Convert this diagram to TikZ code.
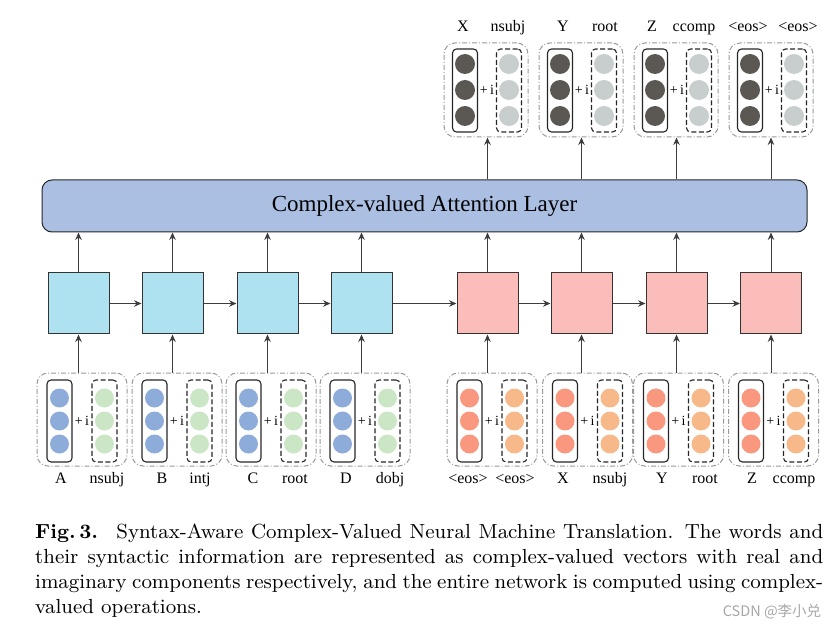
\documentclass[tikz,border=0pt]{standalone}
\usepackage{fontspec}
\newfontfamily\tms{Liberation Serif}
\newfontfamily\cjk{Noto Sans CJK SC}
\newfontfamily\capfont{lmroman9-regular.otf}[BoldFont=lmroman9-bold.otf]
\usetikzlibrary{arrows.meta}
\definecolor{attfill}{HTML}{AABFE2}
\definecolor{encfill}{HTML}{AEE2F0}
\definecolor{decfill}{HTML}{FBBDB9}
\definecolor{cblue}{HTML}{8DACDA}
\definecolor{cgreen}{HTML}{CAE6C4}
\definecolor{csalmon}{HTML}{F9977F}
\definecolor{corange}{HTML}{F8B98A}
\definecolor{cdark}{HTML}{5B5853}
\definecolor{clight}{HTML}{C8CECE}
\definecolor{grpline}{HTML}{979B9B}
\definecolor{edgecol}{HTML}{3C3C3C}
\tikzset{
  grp/.style={draw=grpline, line width=1pt, dash pattern=on 5pt off 2pt on 1pt off 2pt,
    rounded corners=11pt, inner sep=0pt},
  realbox/.style={draw=black!85, line width=1.1pt, rounded corners=4pt, minimum width=25pt, inner sep=0pt},
  imagbox/.style={realbox, dash pattern=on 5pt off 2.5pt},
  dot/.style={circle, inner sep=0pt},
  cell/.style={draw=black!80, line width=1pt, minimum size=61pt, inner sep=0pt},
  att/.style={draw=black!85, line width=1pt, fill=attfill, rounded corners=10pt,
    minimum width=765pt, minimum height=52pt, inner sep=0pt},
  arr/.style={draw=edgecol, line width=0.9pt, -{Stealth[length=7.5pt,width=6.5pt,inset=2.5pt]}},
  lbl/.style={anchor=base, inner sep=0pt, font=\tms\fontsize{16}{16}\selectfont},
  plusi/.style={inner sep=0pt, font=\tms\fontsize{14}{14}\selectfont},
}
\begin{document}
\begin{tikzpicture}[x=1pt,y=-1pt]
\useasboundingbox (0,0) rectangle (836,631);

% attention layer
\node[att] (att) at (424.5,206) {\tms\fontsize{23}{23}\selectfont Complex-valued Attention Layer};

% recurrent cells
\foreach \i/\bx/\col in {1/78.5/encfill,2/172.5/encfill,3/267.5/encfill,4/361.5/encfill,
                          5/487.5/decfill,6/581.5/decfill,7/676.5/decfill,8/771/decfill}{
  \node[cell, fill=\col] (cell\i) at (\bx,303.5) {};
}
\foreach \i/\j in {1/2,2/3,3/4,4/5,5/6,6/7,7/8}{
  \draw[arr] (cell\i.east) -- (cell\j.west);
}
\foreach \i in {1,...,8}{
  \draw[arr] (cell\i.north) -- (cell\i.north |- att.south);
}

% input groups
\foreach \i/\gx/\cr/\ci/\la/\xa/\lb/\xb in {
  1/82/cblue/cgreen/A/61/nsubj/107,
  2/177/cblue/cgreen/B/162/intj/200,
  3/271/cblue/cgreen/C/253/root/295,
  4/365/cblue/cgreen/D/346/dobj/390,
  5/492/csalmon/corange/{<eos>}/468/{<eos>}/515,
  6/587.5/csalmon/corange/X/563/nsubj/610,
  7/678.5/csalmon/corange/Y/662/root/705,
  8/773.5/csalmon/corange/Z/752/ccomp/794}{
  \node[grp, minimum width=90pt, minimum height=93pt] (gin\i) at (\gx,419.5) {};
  \node[realbox, minimum height=82pt] (rin\i) at (\gx-22.5,421) {};
  \node[imagbox, minimum height=82pt] (iin\i) at (\gx+22.5,421) {};
  \foreach \k/\y in {1/398,2/421,3/444}{
    \node[dot, fill=\cr, minimum size=19pt] (rin\i d\k) at (\gx-22.5,\y) {};
    \node[dot, fill=\ci, minimum size=19pt] (iin\i d\k) at (\gx+22.5,\y) {};
  }
  \node[plusi] (pin\i) at (\gx,421) {+\,i};
  \node[lbl] (lain\i) at (\xa,483) {\la};
  \node[lbl] (lbin\i) at (\xb,483) {\lb};
  \draw[arr] (gin\i.north -| cell\i) -- (cell\i.south);
}

% output groups
\foreach \i/\c/\gx/\la/\xa/\lb/\xb in {
  1/5/486/X/463/nsubj/508,
  2/6/581/Y/563/root/605,
  3/7/676/Z/652/ccomp/694,
  4/8/771/{<eos>}/748/{<eos>}/798}{
  \node[grp, minimum width=84pt, minimum height=94pt] (gout\i) at (\gx,90) {};
  \node[realbox, minimum height=83pt] (rout\i) at (\gx-21,90.5) {};
  \node[imagbox, minimum height=83pt] (iout\i) at (\gx+23,90.5) {};
  \foreach \k/\y in {1/64,2/90,3/116}{
    \node[dot, fill=cdark, minimum size=20pt] (rout\i d\k) at (\gx-21,\y) {};
    \node[dot, fill=clight, minimum size=20pt] (iout\i d\k) at (\gx+23,\y) {};
  }
  \node[plusi] (pout\i) at (\gx+1,90) {+\,i};
  \node[lbl] (laout\i) at (\xa,32) {\la};
  \node[lbl] (lbout\i) at (\xb,32) {\lb};
  \draw[arr] (att.north -| cell\c) -- (gout\i.south -| cell\c);
}

% caption
\node[anchor=base west, inner sep=0pt, text width=788pt, align=justify,
      font=\capfont\fontsize{20.4}{25}\selectfont] (caption) at (35,538)
 {\textbf{Fig.\,3.}\hspace{0.9em}Syntax-Aware Complex-Valued Neural Machine Translation. The words and\linebreak
  their syntactic information are represented as complex-valued vectors with real and\linebreak
  imaginary components respectively, and the entire network is computed using complex-\linebreak
  valued operations.};

% watermark
\node[inner sep=0pt, text=black!35, font=\cjk\fontsize{14.5}{14.5}\selectfont] (wm) at (772,612) {CSDN @李小兑};
\end{tikzpicture}
\end{document}
